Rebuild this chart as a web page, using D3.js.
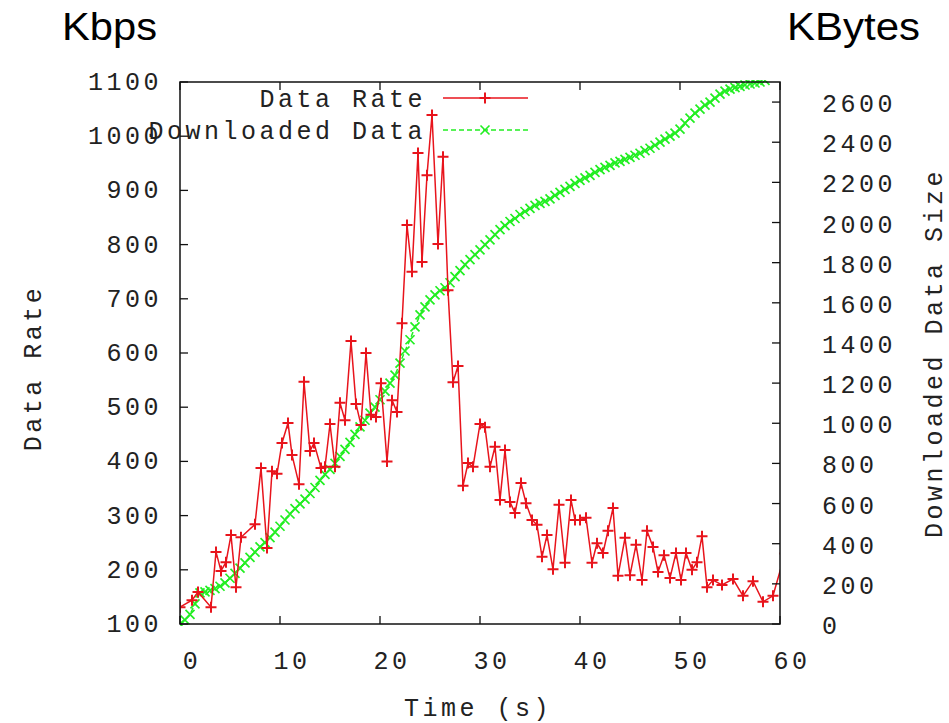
<!DOCTYPE html>
<html>
<head>
<meta charset="utf-8">
<script src="https://cdn.jsdelivr.net/npm/d3@7"></script>
<style>
  body { margin: 0; background: #fff; }
  svg { display: block; }
  .mono { font-family: "Liberation Mono", "DejaVu Sans Mono", monospace; font-size: 25px; letter-spacing: 3.5px; fill: #222; }
  .unit { font-family: "Liberation Sans", Arial, sans-serif; font-size: 38px; fill: #000; }
</style>
</head>
<body>
<script>
// Data Rate (Kbps)
var rateTime = [0.0, 1.2, 1.8, 3.1, 3.6, 4.1, 4.6, 5.1, 5.6, 6.1, 7.5, 8.1, 8.7, 9.2, 9.7,
    10.2, 10.8, 11.2, 11.9, 12.4, 13.0, 13.4, 14.1, 14.5, 15.0, 15.5, 16.0, 16.5, 17.1, 17.6,
    18.1, 18.6, 19.1, 19.6, 20.1, 20.7, 21.2, 21.7, 22.2, 22.7, 23.2, 23.8, 24.2, 24.7, 25.2,
    25.8, 26.3, 26.8, 27.3, 27.8, 28.3, 28.8, 29.3, 30.0, 30.5, 31.0, 31.5, 32.0, 32.5, 33.0,
    33.5, 34.1, 34.6, 35.2, 35.7, 36.2, 36.7, 37.3, 37.9, 38.5, 39.1, 39.5, 40.0, 40.6, 41.2,
    41.7, 42.3, 42.8, 43.3, 43.8, 44.5, 45.0, 45.6, 46.2, 46.7, 47.3, 47.8, 48.4, 49.0, 49.6,
    50.1, 50.6, 51.2, 51.7, 52.2, 52.7, 53.3, 54.2, 55.3, 56.3, 57.3, 58.3, 59.3, 60.5];
var rateValues = [131, 144, 159, 131, 233, 198, 214, 264, 168, 260, 284, 388, 240, 382, 377,
    434, 471, 412, 358, 547, 419, 434, 388, 390, 469, 390, 508, 476, 622, 506,
    467, 600, 486, 482, 544, 400, 513, 491, 655, 836, 750, 969, 768, 928, 1039,
    801, 962, 716, 546, 576, 355, 397, 390, 469, 463, 390, 427, 329, 421, 325,
    305, 360, 323, 292, 283, 224, 264, 201, 320, 213, 329, 292, 292, 296, 213,
    249, 231, 272, 314, 189, 259, 190, 246, 181, 272, 242, 196, 227, 185, 231,
    181, 231, 200, 214, 262, 168, 181, 172, 183, 152, 179, 141, 152, 230];

// Downloaded Data (KBytes), one reading every half second
var sizeTime = [0, 0.5, 1, 1.5, 2, 2.5, 3, 3.5, 4, 4.5, 5, 5.5, 6, 6.5, 7, 7.5, 8, 8.5, 9, 9.5,
    10, 10.5, 11, 11.5, 12, 12.5, 13, 13.5, 14, 14.5, 15, 15.5, 16, 16.5, 17, 17.5, 18, 18.5, 19, 19.5,
    20, 20.5, 21, 21.5, 22, 22.5, 23, 23.5, 24, 24.5, 25, 25.5, 26, 26.5, 27, 27.5, 28, 28.5, 29, 29.5,
    30, 30.5, 31, 31.5, 32, 32.5, 33, 33.5, 34, 34.5, 35, 35.5, 36, 36.5, 37, 37.5, 38, 38.5, 39, 39.5,
    40, 40.5, 41, 41.5, 42, 42.5, 43, 43.5, 44, 44.5, 45, 45.5, 46, 46.5, 47, 47.5, 48, 48.5, 49, 49.5,
    50, 50.5, 51, 51.5, 52, 52.5, 53, 53.5, 54, 54.5, 55, 55.5, 56, 56.5, 57, 57.5, 58, 58.5];
var sizeValues = [0, 20, 48, 100, 155, 160, 168, 176, 188, 205, 228, 252, 278, 305, 332, 358, 384, 405, 430, 458,
    487, 518, 548, 575, 598, 622, 650, 680, 715, 745, 770, 800, 835, 870, 905, 945, 982, 1015, 1050, 1080,
    1117, 1160, 1200, 1240, 1300, 1360, 1416, 1480, 1540, 1580, 1615, 1640, 1660, 1675, 1700, 1730, 1760, 1790, 1815, 1840,
    1864, 1890, 1914, 1940, 1965, 1985, 2005, 2020, 2040, 2055, 2070, 2085, 2095, 2105, 2118, 2135, 2150, 2165, 2180, 2195,
    2210, 2222, 2235, 2250, 2263, 2275, 2285, 2297, 2305, 2315, 2325, 2335, 2345, 2358, 2370, 2385, 2400, 2415, 2430, 2445,
    2465, 2495, 2520, 2545, 2565, 2585, 2600, 2620, 2640, 2655, 2665, 2672, 2678, 2685, 2690, 2695, 2700, 2708];

var xTicks = [0, 10, 20, 30, 40, 50, 60];
var yTicks = [100, 200, 300, 400, 500, 600, 700, 800, 900, 1000, 1100];
var y2Ticks = [0, 200, 400, 600, 800, 1000, 1200, 1400, 1600, 1800, 2000, 2200, 2400, 2600];

var red = "#e8141c", green = "#22ee22";

var svg = d3.select("body").append("svg")
    .attr("width", 949)
    .attr("height", 723);

var margin = {top: 82, right: 169, bottom: 99, left: 180},
    width = 949 - margin.left - margin.right,
    height = 723 - margin.top - margin.bottom;

var x = d3.scaleLinear().domain([0, 60]).range([margin.left, margin.left + width]);
var y = d3.scaleLinear().domain([100, 1100]).range([margin.top + height, margin.top]);
var y2 = d3.scaleLinear().domain([0, 2700]).range([margin.top + height, margin.top]);

svg.append("clipPath").attr("id", "plot-clip")
    .append("rect")
    .attr("x", margin.left).attr("y", margin.top - 2)
    .attr("width", width).attr("height", height + 4);

var plot = svg.append("g").attr("clip-path", "url(#plot-clip)");

// green: downloaded data
var sizeData = d3.zip(sizeTime, sizeValues);
plot.append("path")
    .attr("fill", "none")
    .attr("stroke", green)
    .attr("stroke-width", 1.5)
    .attr("stroke-dasharray", "5,3")
    .attr("d", d3.line().x(function (d) { return x(d[0]); }).y(function (d) { return y2(d[1]); })(sizeData));
plot.selectAll(".xmark")
    .data(sizeData)
    .enter().append("path")
    .attr("class", "xmark")
    .attr("stroke", green)
    .attr("stroke-width", 1.7)
    .attr("d", function (d) {
        var cx = x(d[0]), cy = y2(d[1]), s = 4.5;
        return "M" + (cx - s) + "," + (cy - s) + "L" + (cx + s) + "," + (cy + s) +
            "M" + (cx - s) + "," + (cy + s) + "L" + (cx + s) + "," + (cy - s);
    });

// red: data rate
var rateData = d3.zip(rateTime, rateValues);
plot.append("path")
    .attr("fill", "none")
    .attr("stroke", red)
    .attr("stroke-width", 1.5)
    .attr("d", d3.line().x(function (d) { return x(d[0]); }).y(function (d) { return y(d[1]); })(rateData));
plot.selectAll(".plus")
    .data(rateData)
    .enter().append("path")
    .attr("class", "plus")
    .attr("stroke", red)
    .attr("stroke-width", 2)
    .attr("d", function (d) {
        var cx = x(d[0]), cy = y(d[1]), s = 5.5;
        return "M" + (cx - s) + "," + cy + "L" + (cx + s) + "," + cy +
            "M" + cx + "," + (cy - s) + "L" + cx + "," + (cy + s);
    });

// frame
svg.append("rect")
    .attr("x", margin.left).attr("y", margin.top)
    .attr("width", width).attr("height", height)
    .attr("fill", "none").attr("stroke", "#111").attr("stroke-width", 1.5);

// ticks, pointing inward
var tickLen = 8;
svg.selectAll(".xtick").data(xTicks).enter().append("path")
    .attr("stroke", "#111").attr("stroke-width", 1.3)
    .attr("d", function (d) {
        return "M" + x(d) + "," + (margin.top + height) + "v" + (-tickLen) +
            "M" + x(d) + "," + margin.top + "v" + tickLen;
    });
svg.selectAll(".ytick").data(yTicks).enter().append("path")
    .attr("stroke", "#111").attr("stroke-width", 1.3)
    .attr("d", function (d) { return "M" + margin.left + "," + y(d) + "h" + tickLen; });
svg.selectAll(".y2tick").data(y2Ticks).enter().append("path")
    .attr("stroke", "#111").attr("stroke-width", 1.3)
    .attr("d", function (d) { return "M" + (margin.left + width) + "," + y2(d) + "h" + (-tickLen); });

// tick labels
svg.selectAll(".xlab").data(xTicks).enter().append("text")
    .attr("class", "mono")
    .attr("text-anchor", "middle")
    .attr("x", function (d) { return x(d) + 12; })
    .attr("y", margin.top + height + 45)
    .text(function (d) { return d; });
svg.selectAll(".ylab").data(yTicks).enter().append("text")
    .attr("class", "mono")
    .attr("text-anchor", "end")
    .attr("x", 162)
    .attr("y", function (d) { return y(d) + 8; })
    .text(function (d) { return d; });
svg.selectAll(".y2lab").data(y2Ticks).enter().append("text")
    .attr("class", "mono")
    .attr("x", 822)
    .attr("y", function (d) { return y2(d) + 10; })
    .text(function (d) { return d; });

// axis titles
svg.append("text").attr("class", "mono")
    .attr("text-anchor", "middle")
    .attr("x", 478).attr("y", 716)
    .text("Time (s)");
svg.append("text").attr("class", "mono")
    .attr("text-anchor", "middle")
    .attr("transform", "translate(41,368) rotate(-90)")
    .text("Data Rate");
svg.append("text").attr("class", "mono")
    .attr("text-anchor", "middle")
    .attr("transform", "translate(942,353) rotate(-90)")
    .text("Downloaded Data Size");

// unit labels
svg.append("text").attr("class", "unit")
    .attr("x", 62).attr("y", 40)
    .attr("textLength", 95).attr("lengthAdjust", "spacingAndGlyphs")
    .text("Kbps");
svg.append("text").attr("class", "unit")
    .attr("x", 787).attr("y", 40)
    .attr("textLength", 133).attr("lengthAdjust", "spacingAndGlyphs")
    .text("KBytes");

// legend
var legend = [
    {label: "Data Rate", color: red, dash: null, mark: "plus", y: 98},
    {label: "Downloaded Data", color: green, dash: "5,3", mark: "x", y: 130}
];
legend.forEach(function (l) {
    svg.append("text").attr("class", "mono")
        .attr("text-anchor", "end")
        .attr("x", 426).attr("y", l.y + 9)
        .text(l.label);
    svg.append("path")
        .attr("stroke", l.color).attr("stroke-width", 1.5)
        .attr("stroke-dasharray", l.dash)
        .attr("d", "M443," + l.y + "H528");
    var cx = 485, cy = l.y, s;
    if (l.mark == "plus") {
        s = 5.5;
        svg.append("path").attr("stroke", l.color).attr("stroke-width", 2)
            .attr("d", "M" + (cx - s) + "," + cy + "H" + (cx + s) + "M" + cx + "," + (cy - s) + "V" + (cy + s));
    } else {
        s = 4.5;
        svg.append("path").attr("stroke", l.color).attr("stroke-width", 1.6)
            .attr("d", "M" + (cx - s) + "," + (cy - s) + "L" + (cx + s) + "," + (cy + s) +
                "M" + (cx - s) + "," + (cy + s) + "L" + (cx + s) + "," + (cy - s));
    }
});
</script>
</body>
</html>
